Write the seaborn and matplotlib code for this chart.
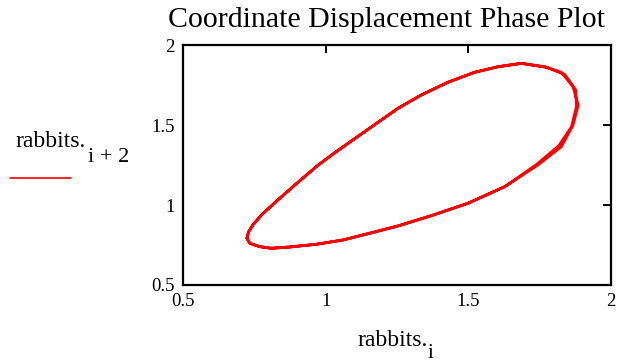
import matplotlib
matplotlib.use("Agg")
import matplotlib.pyplot as plt
import seaborn as sns
import pandas as pd
from matplotlib.lines import Line2D

# Lag-2 phase loop of the rabbit population: rabbits_i against rabbits_{i+2}
rabbits_i = [
    0.724, 0.730, 0.745, 0.775, 0.839, 0.906, 0.973, 1.037, 1.107, 1.178,
    1.254, 1.335, 1.429, 1.522, 1.604, 1.686, 1.768, 1.826, 1.867, 1.885,
    1.867, 1.826, 1.744, 1.628, 1.499, 1.370, 1.254, 1.154, 1.061, 0.967,
    0.874, 0.809, 0.769, 0.734, 0.724, 0.730, 0.745, 0.775, 0.839, 0.906,
    0.973, 1.037, 1.107, 1.178, 1.254, 1.335, 1.429, 1.522, 1.604, 1.686,
    1.776, 1.838, 1.876, 1.879, 1.862, 1.817, 1.740, 1.628, 1.499, 1.370,
    1.254, 1.154, 1.061, 0.967, 0.874, 0.809, 0.769, 0.734, 0.724,
]
rabbits_i2 = [
    0.793, 0.834, 0.876, 0.939, 1.043, 1.148, 1.250, 1.335, 1.423, 1.512,
    1.607, 1.690, 1.770, 1.832, 1.867, 1.888, 1.867, 1.832, 1.742, 1.627,
    1.502, 1.366, 1.252, 1.116, 1.012, 0.934, 0.870, 0.824, 0.782, 0.755,
    0.738, 0.730, 0.740, 0.761, 0.793, 0.834, 0.876, 0.939, 1.043, 1.148,
    1.250, 1.335, 1.423, 1.512, 1.607, 1.690, 1.770, 1.832, 1.867, 1.888,
    1.862, 1.818, 1.722, 1.618, 1.492, 1.372, 1.256, 1.116, 1.012, 0.934,
    0.870, 0.824, 0.782, 0.755, 0.738, 0.730, 0.740, 0.761, 0.793,
]

x_ticks = [0.5, 1, 1.5, 2]
y_ticks = [0.5, 1, 1.5, 2]
x_tick_labels = ["0.5", "1", "1.5", "2"]
y_tick_labels = ["0.5", "1", "1.5", "2"]

title = "Coordinate Displacement Phase Plot"

sns.set_style("white")
serif = ["Liberation Serif", "DejaVu Serif"]
plt.rcParams["font.family"] = serif

df = pd.DataFrame({"x": rabbits_i, "y": rabbits_i2})

fig = plt.figure(figsize=(6.41, 3.63), dpi=100)
ax = fig.add_axes([0.2855, 0.2149, 0.6677, 0.6598])

sns.lineplot(data=df, x="x", y="y", sort=False, estimator=None,
             color="#ff0000", linewidth=2.0, ax=ax)

ax.set_xlim(0.5, 2)
ax.set_ylim(0.5, 2)
ax.set_xticks(x_ticks)
ax.set_yticks(y_ticks)
ax.set_xticklabels(x_tick_labels)
ax.set_yticklabels(y_tick_labels)
ax.set_xlabel("")
ax.set_ylabel("")

for sp in ax.spines.values():
    sp.set_visible(True)
    sp.set_color("black")
    sp.set_linewidth(1.6)

ax.tick_params(axis="both", which="both", direction="in", length=5.5,
               width=1.4, color="black", labelsize=13.5, labelcolor="black",
               top=True, right=True, pad=6)

fig.text(0.603, 0.925, title, ha="center", va="baseline", fontsize=21.5,
         color="black")

# y-axis label with subscript and legend swatch
fig.text(15 / 641, 1 - 147 / 363, "rabbits.", fontsize=17, va="baseline",
         ha="left", color="black")
fig.text(88 / 641, 1 - 162 / 363, "i + 2", fontsize=16, va="baseline",
         ha="left", color="black")
fig.add_artist(Line2D([10 / 641, 71 / 641], [1 - 177.5 / 363, 1 - 177.5 / 363],
                      color="#ff0000", linewidth=1.2, transform=fig.transFigure))

# x-axis label with subscript
fig.text(357 / 641, 1 - 346 / 363, "rabbits.", fontsize=17, va="baseline",
         ha="left", color="black")
fig.text(428 / 641, 1 - 358 / 363, "i", fontsize=15, va="baseline",
         ha="left", color="black")

fig.savefig("out.png", dpi=100)
